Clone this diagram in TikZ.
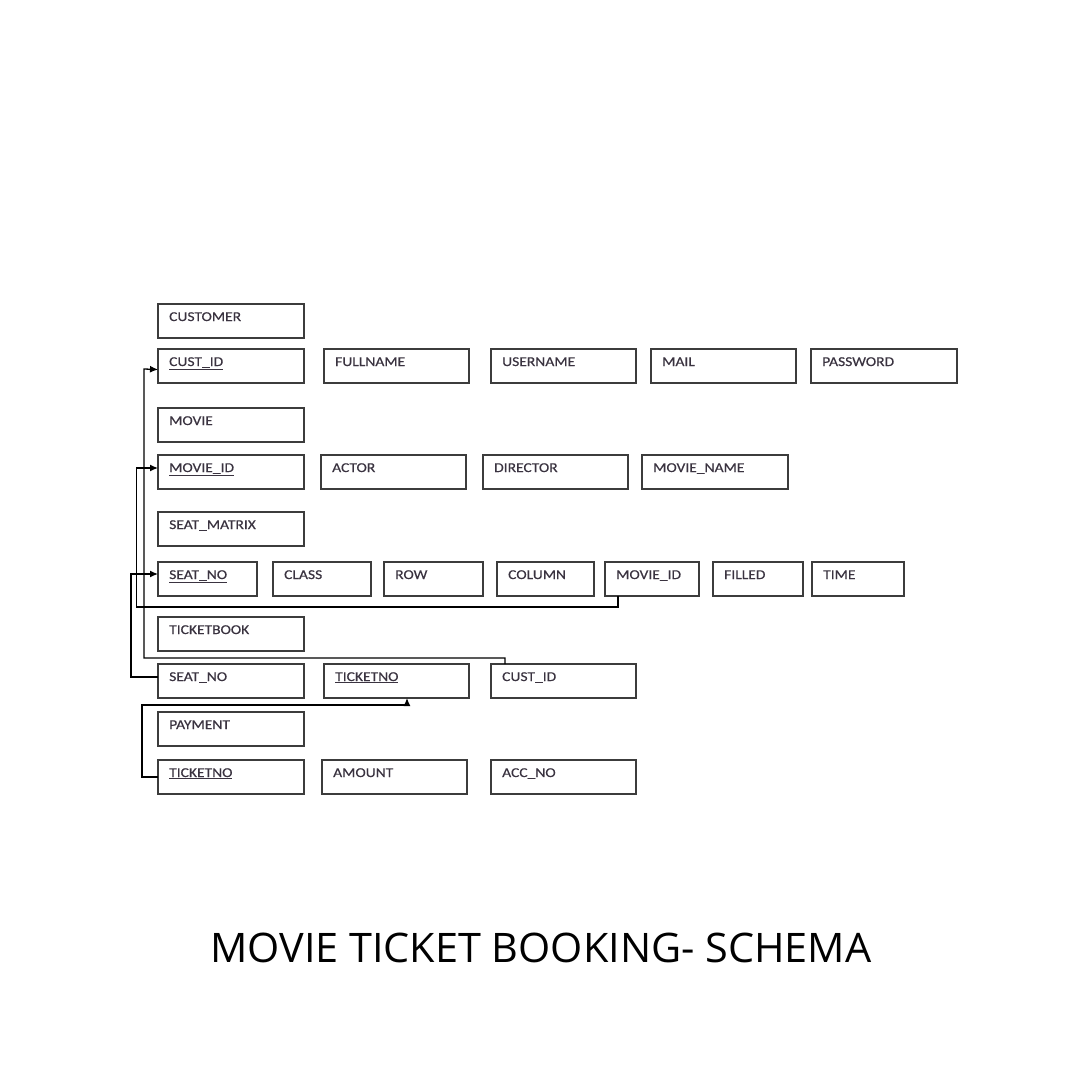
\documentclass[tikz,border=0pt]{standalone}
\usepackage{fontspec}
\usepackage{graphicx}
\usetikzlibrary{arrows.meta,calc}
\newfontfamily\lblfont[FakeStretch=1.15,FakeBold=0.4]{Carlito}
\newfontfamily\titlefont{Open Sans}
\definecolor{boxline}{HTML}{3C3C3C}
\definecolor{lbltext}{HTML}{3A3340}
\tikzset{
  ebox/.style={draw=boxline, line width=1.3pt, inner sep=0pt, outer sep=0pt, anchor=north west, minimum height=34pt},
  elbl/.style={anchor=base west, inner sep=0pt, text=lbltext, font=\lblfont\fontsize{13.5}{14}\selectfont},
  conn/.style={draw=black, line width=1.3pt},
  arr/.style={conn, -{Latex[length=8pt,width=7pt]}}
}
% \ebox{name}{x}{y}{width}{label}
\newcommand\ebox[5]{%
  \node[ebox, minimum width=#4pt] (#1) at (#2,#3) {};
  \node[elbl] (#1-l) at ($(#1.north west)+(11,17)$) {#5};
}
\begin{document}
\begin{tikzpicture}[x=1pt,y=-1pt]
\useasboundingbox[fill=white] (0,0) rectangle (1080,1080);
% CUSTOMER
\ebox{customer}{158}{304}{146}{CUSTOMER}
\ebox{cid}{158}{349}{146}{\underline{CUST\_ID}}
\ebox{fullname}{324}{349}{145}{FULLNAME}
\ebox{username}{491}{349}{145}{USERNAME}
\ebox{mail}{651}{349}{145}{MAIL}
\ebox{password}{811}{349}{146}{PASSWORD}
% MOVIE
\ebox{movie}{158}{408}{146}{MOVIE}
\ebox{mid}{158}{455}{146}{\underline{MOVIE\_ID}}
\ebox{actor}{321}{455}{145}{ACTOR}
\ebox{director}{483}{455}{145}{DIRECTOR}
\ebox{mname}{642}{455}{146}{MOVIE\_NAME}
% SEAT_MATRIX
\ebox{seatmatrix}{158}{512}{146}{SEAT\_MATRIX}
\ebox{sseat}{158}{562}{99}{\underline{SEAT\_NO}}
\ebox{sclass}{273}{562}{98}{CLASS}
\ebox{srow}{384}{562}{99}{ROW}
\ebox{scol}{497}{562}{97}{COLUMN}
\ebox{smid}{605}{562}{94}{MOVIE\_ID}
\ebox{sfilled}{713}{562}{90}{FILLED}
\ebox{stime}{812}{562}{92}{TIME}
% TICKETBOOK
\ebox{ticketbook}{158}{617}{146}{TICKETBOOK}
\ebox{tseat}{158}{664}{146}{SEAT\_NO}
\ebox{tno}{324}{664}{145}{\underline{TICKETNO}}
\ebox{tcust}{491}{664}{145}{CUST\_ID}
% PAYMENT
\ebox{payment}{158}{712}{146}{PAYMENT}
\ebox{pno}{158}{760}{146}{\underline{TICKETNO}}
\ebox{amount}{322}{760}{145}{AMOUNT}
\ebox{accno}{491}{760}{145}{ACC\_NO}
% connectors
\draw[arr] ([xshift=14pt]tcust.north west) |- (144,658) -- (144,369) -- ([yshift=-3.5pt]cid.west);
\draw[arr] ([xshift=13pt]smid.south west) |- (136.5,607) -- (136.5,468) -- ([yshift=4pt]mid.west);
\draw[arr] ([yshift=4pt]tseat.west) -| (131,574) -- ([yshift=5pt]sseat.west);
\draw[arr] (pno.west) -| (142,705) -| ([xshift=83pt]tno.south west);
% title
\node[anchor=south west, inner sep=0pt] (title) at (210,963) {\resizebox{661pt}{29.5pt}{\titlefont MOVIE TICKET BOOKING- SCHEMA}};
\end{tikzpicture}
\end{document}
